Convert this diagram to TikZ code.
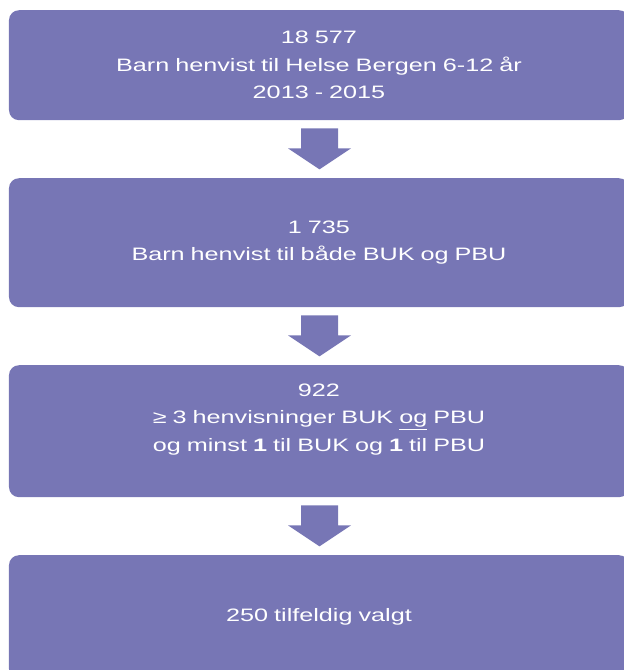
\documentclass[tikz,border=0pt]{standalone}
\usepackage{fontspec}
\setmainfont{Liberation Sans}[FakeStretch=1.4]
\usetikzlibrary{matrix}
\definecolor{flowblue}{RGB}{119,118,181}

\begin{document}
\begin{tikzpicture}[
font=\fontsize{18pt}{27.5pt}\selectfont, flow/.style={
    matrix of nodes,
    inner sep=0pt,
    nodes={fill=flowblue, text=white, rounded corners=10pt, minimum width=620pt,
      text width=600pt, align=center, inner sep=0pt, anchor=center},
    row sep=58pt,
    row 1/.style={nodes={minimum height=110pt}},
    row 2/.style={nodes={minimum height=129pt}},
    row 3/.style={nodes={minimum height=132pt}},
    row 4/.style={nodes={minimum height=124pt}},
},
blockarrow/.style={fill=flowblue},
]

\useasboundingbox (0,0) rectangle (624pt,670pt);
\clip (0,0) rectangle (624pt,670pt);

\matrix[flow, anchor=north] (flow) at (319pt,660pt) {
  {18 577\\Barn henvist til Helse Bergen 6-12 år\\2013 - 2015} \\
  {1 735\\Barn henvist til både BUK og PBU} \\
  {922\\≥ 3 henvisninger BUK \underline{og} PBU\\og minst \textbf{1} til BUK og \textbf{1} til PBU\\ \mbox{}} \\
  250 tilfeldig valgt \\
};

% arrows between the boxes
\foreach \i in {1,2,3}
  \fill[blockarrow] (flow-\i-1.south) ++(-18pt,-8pt) -- ++(37pt,0) -- ++(0,-20pt)
    -- ++(13pt,0) -- ++(-31.5pt,-21pt) -- ++(-31.5pt,21pt) -- ++(13pt,0) -- cycle;

\end{tikzpicture}
\end{document}
